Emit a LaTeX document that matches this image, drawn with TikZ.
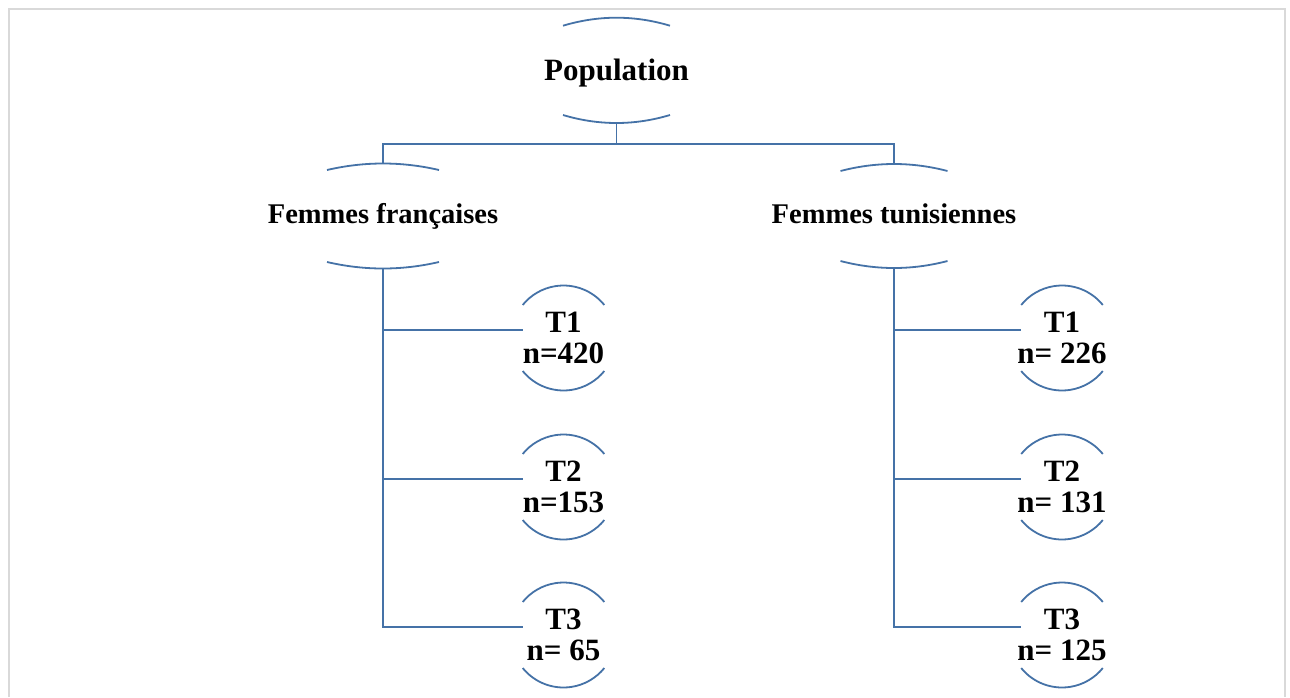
\documentclass[tikz,border=0pt]{standalone}
\usepackage{fontspec}
\setmainfont{Liberation Serif}
\usetikzlibrary{calc}
\definecolor{linecol}{RGB}{69,114,167}
\definecolor{framecol}{RGB}{217,217,217}
\tikzset{
  conn/.style={draw=linecol, line width=1.8pt},
  arcline/.style={draw=linecol, line width=1.8pt},
  bigtext/.style={font=\bfseries\fontsize{31}{33}\selectfont, anchor=base, inner sep=0pt},
  midtext/.style={font=\bfseries\fontsize{28.5}{31}\selectfont, anchor=base, inner sep=0pt},
  tnode/.style={circle, minimum size=105pt, inner sep=0pt, outer sep=0pt, align=center,
    font=\bfseries\fontsize{31}{31}\selectfont},
}
\newcommand\lensarcs[5]{%
  \draw[arcline] (#1-#2,-#3) .. controls (#1-#2/3,-#3+4*#4/3) and (#1+#2/3,-#3+4*#4/3) .. (#1+#2,-#3);
  \draw[arcline] (#1-#2,-#5) .. controls (#1-#2/3,-#5-4*#4/3) and (#1+#2/3,-#5-4*#4/3) .. (#1+#2,-#5);
}
\begin{document}
\begin{tikzpicture}[x=1pt,y=1pt]
\useasboundingbox (0,0) rectangle (1290,-697);
\fill[white] (0,0) rectangle (1290,-697);
% frame
\draw[framecol, line width=2pt] (8.5,-697) -- (8.5,-8.8) -- (1285,-8.8) -- (1285,-697);

% top node
\node[bigtext] (pop) at (616.5,-80) {Population};
\lensarcs{616.5}{53.5}{25.7}{8}{115}
\coordinate (pop-b) at (616.5,-123);

% second level
\node[midtext] (ff) at (383,-223) {Femmes françaises};
\lensarcs{383}{56}{170}{6.5}{262}
\coordinate (ff-t) at (383,-163.5);
\coordinate (ff-b) at (383,-268.5);

\node[midtext] (ft) at (894,-223) {Femmes tunisiennes};
\lensarcs{894}{53.5}{171}{7}{261}
\coordinate (ft-t) at (894,-164);
\coordinate (ft-b) at (894,-268);

% bus
\coordinate (bus) at (616.5,-144.3);
\draw[conn] (pop-b) -- (bus);
\draw[conn] (ff-t) |- (bus) -| (ft-t);

% third level
\node[tnode] (l1) at (563.5,-338) {T1\\n=420};
\node[tnode] (l2) at (563.5,-487) {T2\\n=153};
\node[tnode] (l3) at (563.5,-635) {T3\\n= 65};
\node[tnode] (r1) at (1062,-338) {T1\\n= 226};
\node[tnode] (r2) at (1062,-487) {T2\\n= 131};
\node[tnode] (r3) at (1062,-635) {T3\\n= 125};

\foreach \n in {l1,l2,l3,r1,r2,r3}{
  \draw[arcline] (\n.39) arc[start angle=39,end angle=141,radius=52.5pt];
  \draw[arcline] (\n.219) arc[start angle=219,end angle=321,radius=52.5pt];
  \coordinate (\n-in) at ($(\n.141)+(0,-25)$);
}
\foreach \n in {l1,l2,l3}{ \draw[conn] (ff-b) |- (\n-in); }
\foreach \n in {r1,r2,r3}{ \draw[conn] (ft-b) |- (\n-in); }
\end{tikzpicture}
\end{document}
